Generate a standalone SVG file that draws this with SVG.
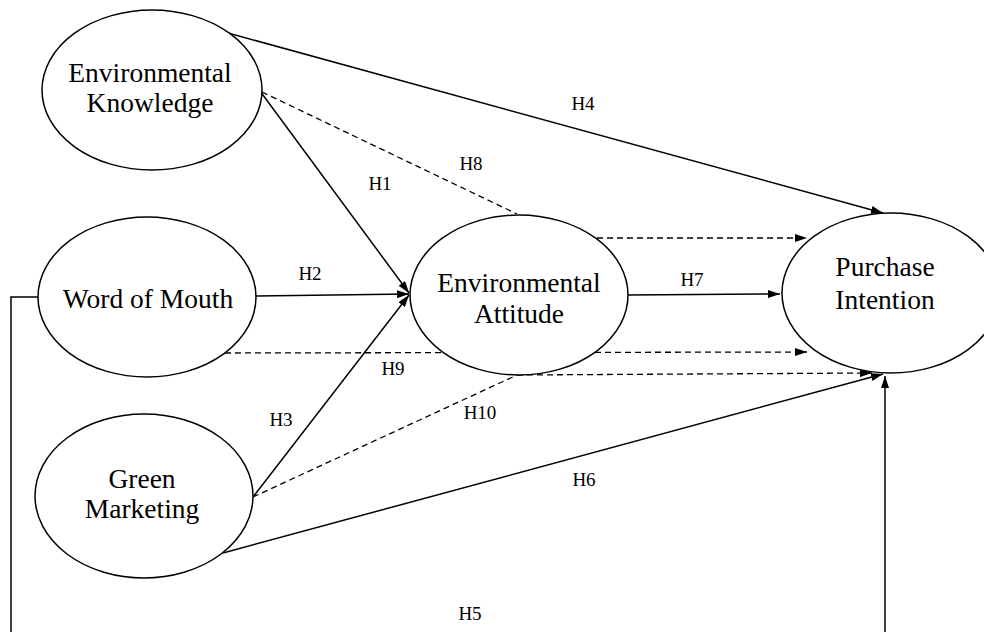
<svg xmlns="http://www.w3.org/2000/svg" width="984" height="632" viewBox="0 0 984 632">
<style>
.node ellipse{fill:#fff;stroke:#000;stroke-width:1.5}
.node text{font-family:"Liberation Serif","Times New Roman",serif;font-size:27.5px;fill:#000;text-anchor:middle}
.lbl{font-family:"Liberation Serif","Times New Roman",serif;font-size:19px;fill:#000;text-anchor:middle}
.c{fill:none;stroke:#000;stroke-width:1.5}
.d{fill:none;stroke:#000;stroke-width:1.3;stroke-dasharray:6 4}
</style>
<defs>
<marker id="ah" viewBox="0 0 12 8" refX="12" refY="4" markerWidth="12" markerHeight="8" markerUnits="userSpaceOnUse" orient="auto">
<path d="M0,0 L12,4 L0,8 Z" fill="#000"/>
</marker>
</defs>
<g id="connectors">
<!-- H4 -->
<line class="c" x1="228" y1="33" x2="883" y2="213" marker-end="url(#ah)"/>
<!-- H1 -->
<line class="c" x1="260" y1="91" x2="409" y2="293" marker-end="url(#ah)"/>
<!-- H2 -->
<line class="c" x1="256" y1="296" x2="409" y2="294" marker-end="url(#ah)"/>
<!-- H3 -->
<line class="c" x1="253" y1="497" x2="409" y2="295" marker-end="url(#ah)"/>
<!-- H8 -->
<line class="d" x1="262" y1="92" x2="517" y2="214"/>
<line class="d" x1="597" y1="238" x2="807" y2="238" marker-end="url(#ah)"/>
<!-- H7 -->
<line class="c" x1="628" y1="295" x2="780" y2="294" marker-end="url(#ah)"/>
<!-- H9 -->
<line class="d" x1="225" y1="353" x2="807" y2="352" marker-end="url(#ah)"/>
<!-- H10 -->
<line class="d" x1="253" y1="497" x2="517" y2="375"/>
<line class="d" x1="517" y1="375" x2="872" y2="373" marker-end="url(#ah)"/>
<!-- H6 -->
<line class="c" x1="223" y1="553" x2="883" y2="374" marker-end="url(#ah)"/>
<!-- H5 -->
<polyline class="c" points="38,297 11,297 11,640"/>
<line class="c" x1="885" y1="640" x2="885" y2="376" marker-end="url(#ah)"/>
</g>
<g id="labels">
<text class="lbl" x="583" y="110">H4</text>
<text class="lbl" x="471" y="170">H8</text>
<text class="lbl" x="380" y="190">H1</text>
<text class="lbl" x="310" y="280">H2</text>
<text class="lbl" x="692" y="286">H7</text>
<text class="lbl" x="393" y="375">H9</text>
<text class="lbl" x="281" y="426">H3</text>
<text class="lbl" x="480" y="419">H10</text>
<text class="lbl" x="584" y="486">H6</text>
<text class="lbl" x="470" y="620">H5</text>
</g>
<g id="environmental-knowledge" class="node">
<ellipse cx="152" cy="90" rx="110" ry="80"/>
<text x="150" y="82">Environmental</text>
<text x="150" y="112">Knowledge</text>
</g>
<g id="word-of-mouth" class="node">
<ellipse cx="147" cy="297" rx="109" ry="80"/>
<text x="148" y="308">Word of Mouth</text>
</g>
<g id="green-marketing" class="node">
<ellipse cx="144" cy="496" rx="109" ry="82"/>
<text x="142" y="488">Green</text>
<text x="142" y="518">Marketing</text>
</g>
<g id="environmental-attitude" class="node">
<ellipse cx="519" cy="295" rx="109" ry="80"/>
<text x="519" y="292">Environmental</text>
<text x="519" y="323">Attitude</text>
</g>
<g id="purchase-intention" class="node">
<ellipse cx="891" cy="293" rx="109" ry="80"/>
<text x="885" y="276">Purchase</text>
<text x="885" y="309">Intention</text>
</g>
</svg>
